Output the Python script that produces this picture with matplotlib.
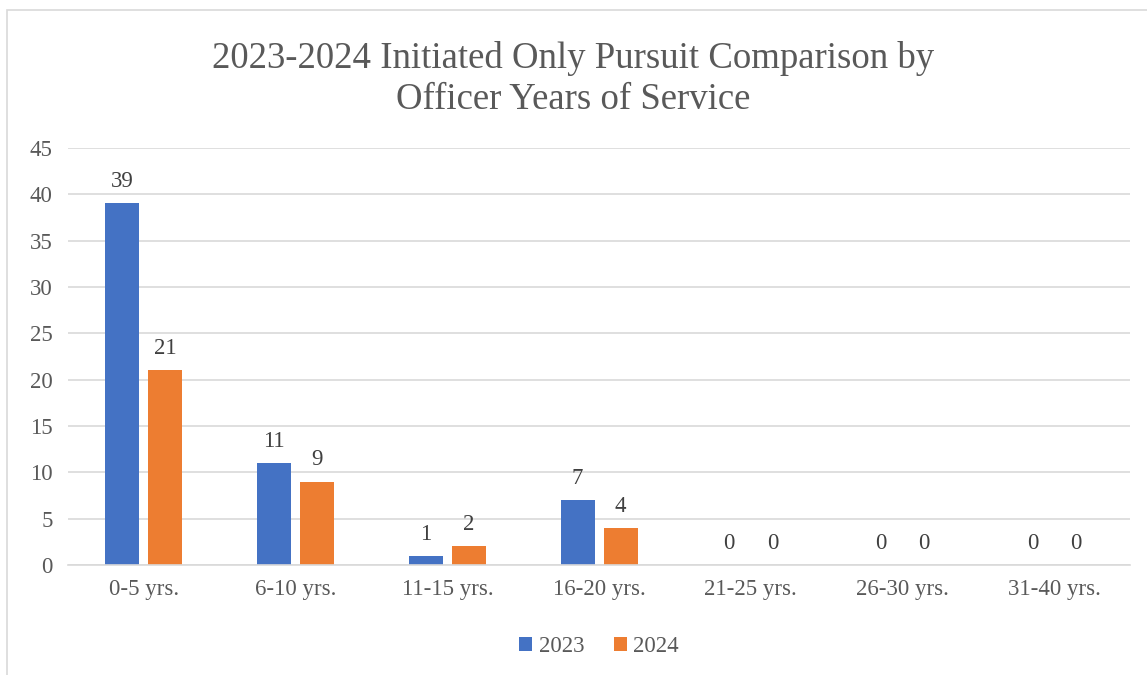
import matplotlib.pyplot as plt
import numpy as np

plt.rcParams['font.family'] = ['Liberation Serif', 'DejaVu Serif']

categories = ["0-5 yrs.", "6-10 yrs.", "11-15 yrs.", "16-20 yrs.",
              "21-25 yrs.", "26-30 yrs.", "31-40 yrs."]
vals_2023 = [39, 11, 1, 7, 0, 0, 0]
vals_2024 = [21, 9, 2, 4, 0, 0, 0]

txt = "#595959"
grid = "#d9d9d9"

fig = plt.figure(figsize=(11.47, 6.75), dpi=100)
ax = fig.add_axes([0.0593, 0.163, 0.926, 0.618])

# outer chart border (only left/top visible in reference)
fig.patches.append(plt.Rectangle((0.006, -0.05), 1.1, 1.035, transform=fig.transFigure,
                                 fill=False, edgecolor=grid, linewidth=1.2))

x = np.arange(len(categories))
w = 0.224
off = 0.142
b1 = ax.bar(x - off, vals_2023, w, color="#4472C4", label="2023")
b2 = ax.bar(x + off, vals_2024, w, color="#ED7D31", label="2024")

for bars, vals in ((b1, vals_2023), (b2, vals_2024)):
    for r, v in zip(bars, vals):
        ax.text(r.get_x() + r.get_width() / 2, v + 1.2, str(v), ha="center", va="bottom",
                fontsize=16.5, color="#404040")

ax.set_xlim(-0.5, len(categories) - 0.5)
ax.set_ylim(0, 45)
ax.set_yticks(range(0, 46, 5))
ax.set_xticks(x)
ax.set_xticklabels(categories)
ax.grid(axis="y", color=grid, linewidth=1.2)
ax.set_axisbelow(True)
for s in ("top", "right", "left"):
    ax.spines[s].set_visible(False)
ax.spines["bottom"].set_color(grid)
ax.spines["bottom"].set_linewidth(1.2)
ax.tick_params(axis="both", length=0, labelsize=16.5, labelcolor=txt)
ax.tick_params(axis="x", pad=10)
ax.tick_params(axis="y", pad=11)

fig.suptitle("2023-2024 Initiated Only Pursuit Comparison by\nOfficer Years of Service",
             y=0.94, fontsize=26.5, color=txt, linespacing=1.27)

ax.legend(loc="upper center", bbox_to_anchor=(0.5, -0.122), ncol=2, frameon=False,
          fontsize=16.5, labelcolor=txt, handlelength=0.55, handleheight=0.55,
          handletextpad=0.3, columnspacing=1.3)

fig.savefig("out.png", dpi=100)
